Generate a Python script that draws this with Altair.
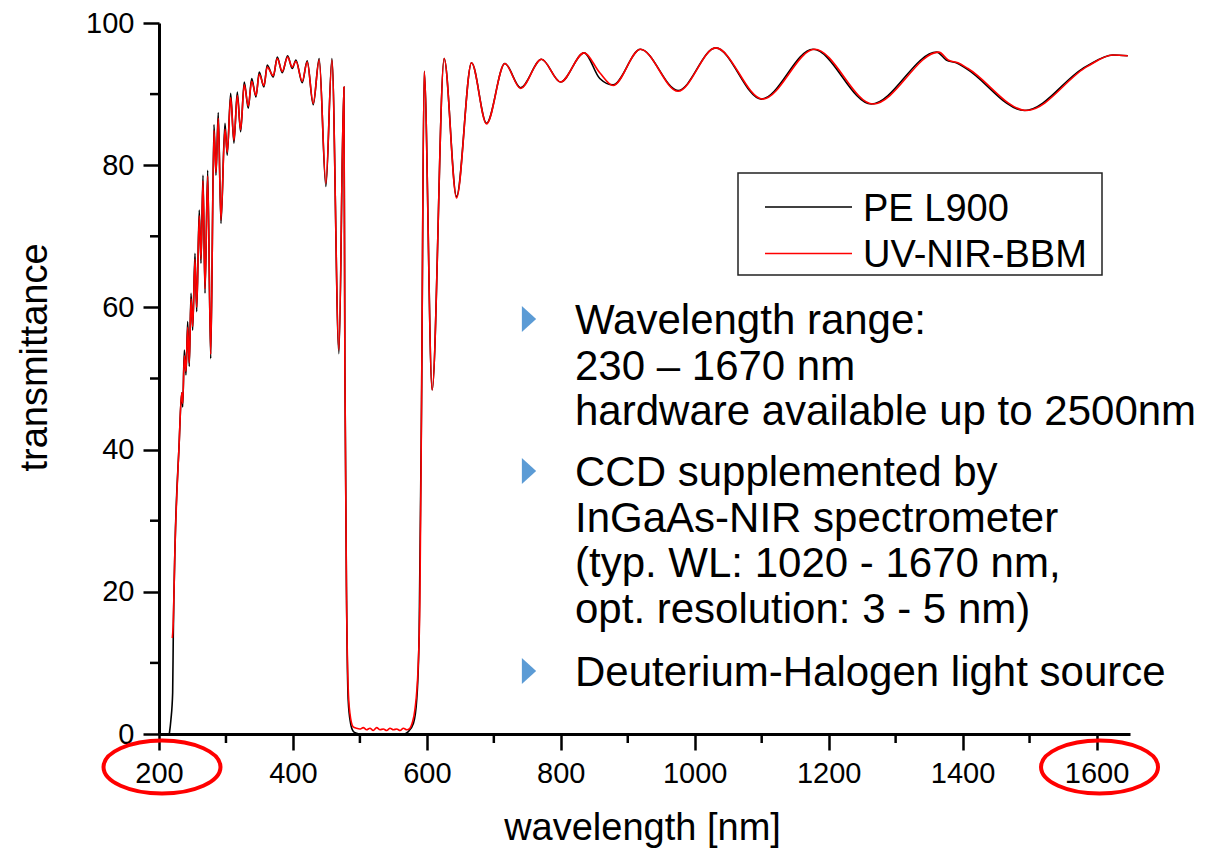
import altair as alt
import pandas as pd

# ---------------- data ----------------
series_names = ["PE L900", "UV-NIR-BBM"]
series_colors = ["#000000", "#ff0000"]

pe_nm = [215.4, 217.8, 220.4, 221.3, 223.9, 229.9, 233.9, 235.4, 237.8, 240.3, 242.8, 245.2,
         247.8, 250.3, 253.7, 256.3, 260.1, 262.7, 265.7, 268.7, 272.7, 277.2, 282.1, 285.1,
         288.5, 292.5, 298.5, 301.9, 307.0, 311.9, 316.9, 321.9, 327.3, 333.3, 338.4, 344.8,
         349.7, 356.7, 361.6, 370.6, 376.6, 384.0, 392.1, 398.9, 404.5, 413.9, 421.3, 430.3,
         439.2, 449.2, 458.2, 468.7, 476.1, 477.6, 480.1, 482.5, 486.1, 490.0, 495.0, 500.0,
         530.0, 565.0, 572.0, 580.0, 585.0, 588.5, 592.1, 596.0, 607.9, 625.8, 644.3, 666.7,
         689.1, 716.4, 739.9, 771.2, 799.6, 834.8, 858.2, 878.1, 918.9, 975.1, 1031.3, 1099.5,
         1176.6, 1263.7, 1361.6, 1375.6, 1390.6, 1405.5, 1492.5, 1584.5, 1624.3, 1646.7]
pe_T = [0.0, 2.0, 5.8, 13.6, 26.3, 40.4, 48.0, 46.0, 54.0, 50.5, 58.0, 51.7,
        62.0, 56.8, 67.6, 59.4, 73.7, 66.2, 78.6, 62.0, 79.3, 52.8, 85.7, 78.6,
        87.4, 71.8, 85.9, 81.4, 90.1, 83.1, 90.3, 84.7, 91.7, 88.0, 92.2, 89.6,
        93.1, 91.0, 94.1, 92.4, 95.2, 93.0, 95.4, 93.6, 94.8, 91.6, 94.7, 88.5,
        95.0, 77.0, 95.0, 53.5, 91.0, 51.2, 18.8, 4.8, 1.5, 0.4, 0.1, 0.0,
        0.0, 0.0, 0.3, 1.5, 5.0, 14.2, 47.0, 93.2, 48.4, 95.0, 75.6, 94.4,
        85.9, 94.3, 90.9, 94.9, 91.7, 95.8, 92.2, 91.3, 96.3, 90.5, 96.5, 89.3,
        96.3, 88.6, 95.9, 94.8, 94.4, 93.6, 87.7, 93.9, 95.5, 95.4]

bbm_nm = [219.9, 221.0, 223.9, 229.9, 233.9, 235.4, 237.8, 240.3, 242.8, 245.2,
          247.8, 250.3, 253.7, 256.3, 260.1, 262.7, 265.7, 268.7, 272.7, 277.2, 282.1, 285.1,
          288.5, 292.5, 298.5, 301.9, 307.0, 311.9, 316.9, 321.9, 327.3, 333.3, 338.4, 344.8,
          349.7, 356.7, 361.6, 370.6, 376.6, 384.0, 392.1, 398.9, 404.5, 413.9, 421.3, 430.3,
          439.2, 449.2, 458.2, 468.7, 476.1, 477.6, 480.1, 482.5, 485.1, 490.0, 495.0, 500.0,
          505.0, 510.0, 515.0, 520.0, 525.0, 530.0, 535.0, 540.0, 545.0, 550.0, 555.0, 560.0,
          565.0, 570.0, 574.6, 578.0, 582.1, 587.0, 589.6, 592.1, 596.0, 607.9, 625.8, 644.3,
          666.7, 689.1, 716.4, 739.9, 771.2, 799.6, 834.8, 858.2, 878.1, 918.9, 975.1, 1031.3,
          1101.5, 1179.0, 1266.5, 1364.5, 1378.5, 1393.0, 1408.0, 1495.5, 1586.5, 1624.3, 1646.7]
bbm_T = [13.5, 15.0, 26.3, 40.4, 48.0, 46.5, 53.2, 51.0, 57.2, 52.2,
         61.2, 57.3, 66.8, 60.0, 72.9, 66.8, 77.8, 62.6, 78.5, 53.4, 84.9, 79.0,
         86.6, 72.3, 85.1, 81.8, 89.5, 83.5, 89.8, 85.0, 91.3, 88.3, 91.8, 89.8,
         92.8, 91.2, 93.8, 92.6, 95.0, 93.2, 95.2, 93.8, 94.6, 91.8, 94.5, 88.7,
         94.8, 77.4, 94.8, 54.0, 91.0, 51.2, 18.8, 6.5, 2.9, 1.0, 0.8, 0.7,
         0.9, 0.6, 0.8, 0.5, 0.9, 0.6, 0.7, 0.5, 0.8, 0.6, 0.7, 0.5,
         0.8, 0.6, 0.8, 1.5, 3.4, 9.5, 18.8, 47.0, 93.2, 48.4, 95.0, 75.4,
         94.4, 85.8, 94.3, 90.8, 94.9, 91.7, 95.8, 93.0, 91.2, 96.3, 90.4, 96.5,
         89.3, 96.3, 88.6, 95.9, 94.8, 94.4, 93.6, 87.7, 93.9, 95.5, 95.4]

x_major = [200, 400, 600, 800, 1000, 1200, 1400, 1600]
x_minor = [300, 500, 700, 900, 1100, 1300, 1500]
y_major = [0, 20, 40, 60, 80, 100]
y_minor = [10, 30, 50, 70, 90]
circled_ticks = [200, 1600]

bullets = [
    ["Wavelength range:", "230 \u2013 1670 nm", "hardware available up to 2500nm"],
    ["CCD supplemented by", "InGaAs-NIR spectrometer", "(typ. WL: 1020 - 1670 nm,",
     "opt. resolution: 3 - 5 nm)"],
    ["Deuterium-Halogen light source"],
]

# ---------------- layout / style ----------------
FONT = "Liberation Sans"
W, H = 971, 711          # plot area
X0, Y0 = 159, 23         # plot origin on the page
one = pd.DataFrame({"k": [0]})

df = pd.concat([
    pd.DataFrame({"wavelength": pe_nm, "T": pe_T, "series": series_names[0]}),
    pd.DataFrame({"wavelength": bbm_nm, "T": bbm_T, "series": series_names[1]}),
], ignore_index=True)

xscale = alt.Scale(domain=[200, 1650], nice=False, zero=False)
yscale = alt.Scale(domain=[0, 100], nice=False)

curves = alt.Chart(df).mark_line(strokeWidth=1.6, interpolate="monotone").encode(
    x=alt.X("wavelength:Q", scale=xscale,
            axis=alt.Axis(values=x_major, format="d", title="wavelength [nm]",
                          labelFlush=False, titleX=483, titleY=105,
                          titleBaseline="alphabetic", titleAlign="center")),
    y=alt.Y("T:Q", scale=yscale,
            axis=alt.Axis(values=y_major, format="d", title="transmittance",
                          titleX=-124, titleY=334, titleAngle=270,
                          titleBaseline="middle", titleAlign="center")),
    color=alt.Color("series:N", scale=alt.Scale(domain=series_names, range=series_colors),
                    legend=None),
    order=alt.Order("wavelength:Q"),
)

xminor = alt.Chart(pd.DataFrame({"v": x_minor})).mark_rule(
    color="black", strokeWidth=2.5).encode(
    x=alt.X("v:Q", scale=xscale), y=alt.value(H), y2=alt.value(H + 9))
yminor = alt.Chart(pd.DataFrame({"v": y_minor})).mark_rule(
    color="black", strokeWidth=2.5).encode(
    y=alt.Y("v:Q", scale=yscale), x=alt.value(-9), x2=alt.value(0))

ellipse_path = "M-1,0A1,0.453,0,1,0,1,0A1,0.453,0,1,0,-1,0Z"
ellipses = alt.Chart(pd.DataFrame({"v": circled_ticks})).mark_point(
    shape=ellipse_path, size=117 * 117, filled=False, color="#ff0000",
    strokeWidth=4, opacity=1, xOffset=3).encode(
    x=alt.X("v:Q", scale=xscale), y=alt.value(H + 33))


def txt(s, px, py, size, color="black", align="left", baseline="alphabetic"):
    return alt.Chart(one).mark_text(
        text=s, font=FONT, fontSize=size, color=color, align=align,
        baseline=baseline).encode(x=alt.value(px - X0), y=alt.value(py - Y0))


# legend (boxed)
legend_layers = [
    alt.Chart(one).mark_rect(fill="white", stroke="#222222", strokeWidth=1.5).encode(
        x=alt.value(738 - X0), x2=alt.value(1102 - X0),
        y=alt.value(173 - Y0), y2=alt.value(275 - Y0)),
]
for i, (name, col) in enumerate(zip(series_names, series_colors)):
    yy = 207 + i * 46.5
    legend_layers.append(
        alt.Chart(one).mark_rule(color=col, strokeWidth=1.3).encode(
            x=alt.value(765 - X0), x2=alt.value(852 - X0), y=alt.value(yy - Y0)))
    legend_layers.append(txt(name, 863, yy + 13.5, 38))

# bullet list
bullet_layers = []
line_gap = 45.5
tri_path = "M-0.55,-1L0.55,0L-0.55,1Z"
para_base = [334, 486, 686]
for para, base in zip(bullets, para_base):
    bullet_layers.append(
        alt.Chart(one).mark_point(shape=tri_path, size=26 * 26, filled=True,
                                  color="#5b9bd5", opacity=1).encode(
            x=alt.value(529 - X0), y=alt.value(base - 15 - Y0)))
    for j, line in enumerate(para):
        bullet_layers.append(txt(line, 575, base + j * line_gap, 42))

chart = alt.layer(
    curves, xminor, yminor, ellipses, *legend_layers, *bullet_layers
).properties(
    width=W, height=H,
    padding={"left": X0, "top": Y0, "right": 1207 - X0 - W, "bottom": 849 - Y0 - H},
    autosize=alt.AutoSizeParams(type="none"),
    background="white",
).configure_view(
    strokeWidth=0
).configure_axis(
    labelFont=FONT, titleFont=FONT, labelFontSize=29, titleFontSize=38,
    titleFontWeight="normal", labelColor="black", titleColor="black",
    domainColor="black", tickColor="black", domainWidth=3, tickWidth=2.5,
    tickSize=16, grid=False, labelPadding=9, labelOverlap=False,
)

chart.save("out.html", embed_options={"renderer": "svg", "actions": False})
